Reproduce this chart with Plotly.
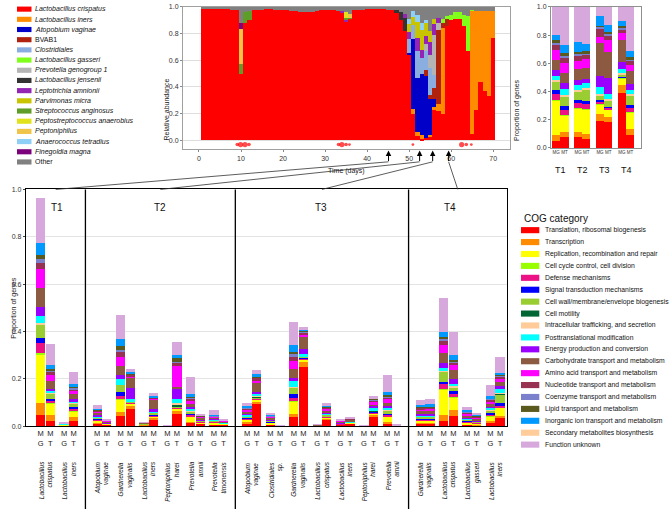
import plotly.graph_objects as go

W, H = 670, 512
FONT = "Liberation Sans, Arial, Helvetica, sans-serif"

# ====================== DATA ======================
# ---- species legend / time series (top middle) ----
species_names = ["Lactobacillus crispatus", "Lactobacillus iners", "Atopobium vaginae", "BVAB1",
                 "Clostridiales", "Lactobacillus gasseri", "Prevotella genogroup 1",
                 "Lactobacillus jensenii", "Leptotrichia amnionii", "Parvimonas micra",
                 "Streptococcus anginosus", "Peptostreptococcus anaerobius", "Peptoniphilus",
                 "Anaerococcus tetradius", "Finegoldia magna", "Other"]
species_italic = [True, True, True, False, True, True, True, True, True, True,
                  True, True, True, True, True, False]
species_colors = ["#ff0000", "#ff8c00", "#0000c8", "#b0220e", "#8aaee0", "#80ff1a",
                  "#b4b4b4", "#333333", "#9424b4", "#c8c400", "#5e9e28", "#e2e21c",
                  "#f0c448", "#8ecff8", "#7c007c", "#808080"]

days = list(range(1, 71))
ab_crispatus = [0.985, 0.985, 0.985, 0.985, 0.99, 0.985, 0.985, 0.98, 0.975,
                0.495, 0.88, 0.9,
                0.975, 0.98, 0.98, 0.985, 0.985, 0.98, 0.98,
                0.975, 0.975, 0.97, 0.97, 0.965, 0.965, 0.96, 0.965, 0.97, 0.975, 0.975, 0.98, 0.975, 0.97,
                0.96, 0.89, 0.91,
                0.975, 0.98, 0.98, 0.985, 0.985, 0.985, 0.985, 0.985, 0.98, 0.975,
                0.955, 0.9, 0.82, 0.64, 0.195, 0.035, 0.01, 0.02, 0.03, 0.23, 0.22, 0.2,
                0.86, 0.9, 0.91, 0.91, 0.86, 0.67, 0.05, 0.23, 0.44, 0.37, 0.33, 0.77]
ab_other = [0.015, 0.015, 0.015, 0.015, 0.01, 0.015, 0.015, 0.02, 0.025,
            0.12, 0.04, 0.03,
            0.025, 0.02, 0.02, 0.015, 0.015, 0.02, 0.02,
            0.025, 0.025, 0.03, 0.03, 0.035, 0.035, 0.04, 0.035, 0.03, 0.025, 0.025, 0.02, 0.025, 0.03,
            0.03, 0.04, 0.05,
            0.025, 0.02, 0.02, 0.015, 0.015, 0.015, 0.015, 0.015, 0.02, 0.025,
            0.025, 0.04, 0.05, 0.088, 0.028, 0.06, 0.12, 0.1, 0.18, 0.09, 0.08, 0.09,
            0.07, 0.06, 0.04, 0.04, 0.06, 0.07, 0.02, 0.03, 0.03, 0.03, 0.03, 0.03]
# sparse readings {day: relative abundance}
ab_iners = {51: 0.037, 52: 0.025, 53: 0.03, 55: 0.01, 56: 0.02, 57: 0.05, 58: 0.64,
            65: 0.92, 66: 0.74, 67: 0.53, 68: 0.6, 69: 0.64, 70: 0.2}
ab_atopobium = {50: 0.012, 51: 0.53, 52: 0.41, 53: 0.46, 54: 0.46, 55: 0.27, 56: 0.06}
ab_bvab1 = {54: 0.05, 55: 0.03, 56: 0.08, 57: 0.56, 58: 0.04, 59: 0.05}
ab_clostridiales = {50: 0.11, 51: 0.1, 52: 0.2, 53: 0.12, 54: 0.14, 55: 0.2, 56: 0.1}
ab_gasseri = {58: 0.03, 59: 0.02, 60: 0.04, 61: 0.05, 62: 0.05, 63: 0.08, 64: 0.26, 65: 0.01}
ab_prevotella = {54: 0.05, 55: 0.1, 56: 0.3, 57: 0.05}
ab_jensenii = {47: 0.02, 48: 0.06, 49: 0.1}
ab_leptotrichia = {34: 0.01, 35: 0.01, 49: 0.03, 50: 0.05, 52: 0.1, 53: 0.06, 54: 0.06,
                   55: 0.1, 56: 0.08, 57: 0.04}
ab_parvimonas = {50: 0.06, 51: 0.06, 52: 0.12, 53: 0.15, 54: 0.1, 55: 0.08, 56: 0.04}
ab_anginosus = {10: 0.08, 11: 0.08, 12: 0.07, 35: 0.02, 36: 0.01}
ab_peptostrep = {35: 0.04}
ab_peptoniphilus = {10: 0.26, 36: 0.03}
ab_anaerococcus = {50: 0.04, 51: 0.05, 52: 0.05, 53: 0.05, 54: 0.02}
ab_finegoldia = {10: 0.045}

menses_days = [9.1, 9.9, 10.95, 11.9, 33.2, 34.0, 35.0, 35.8, 50.9, 62.5, 63.6, 64.8]
menses_level = [1, 2, 2, 1, 1, 2, 1, 0.5, 0.5, 2, 1, 0.5]
sample_days = [45.1, 52.5, 55.6, 59.4]
x_ticks_days = [0, 10, 20, 30, 40, 50, 60, 70]
y_ticks = [0.0, 0.2, 0.4, 0.6, 0.8, 1.0]

# ---- COG categories ----
cog_names = ["Translation, ribosomal biogenesis", "Transcription",
             "Replication, recombination and repair", "Cell cycle control, cell division",
             "Defense mechanisms", "Signal transduction mechanisms",
             "Cell wall/membrane/envelope biogenesis", "Cell motility",
             "Intracellular trafficking, and secretion", "Posttranslational modification",
             "Energy production and conversion", "Carbohydrate transport and metabolism",
             "Amino acid transport and metabolism", "Nucleotide transport and metabolism",
             "Coenzyme transport and metabolism", "Lipid transport and metabolism",
             "Inorganic ion transport and metabolism", "Secondary metabolites biosynthesis",
             "Function unknown"]
cog_colors = ["#ff0000", "#ff8c00", "#ffff00", "#99ff00", "#ec1286", "#0000ff", "#9acd32",
              "#006633", "#ffcc99", "#00ffff", "#9900ff", "#8b5a40", "#ff00ff", "#983252",
              "#7b80cc", "#5a5a1e", "#0099ff", "#ffcc9a", "#d6a8dc"]

# ---- top right: whole community, MG vs MT ----
tr_labels = ["T1", "T2", "T3", "T4"]
tr_MG = [
    [0.047, 0.047, 0.24, 0.005, 0.047, 0.023, 0.063, 0, 0.014, 0.028, 0.04, 0.072, 0.067, 0.035, 0.023, 0.012, 0.042, 0, 0.195],
    [0.081, 0.035, 0.163, 0.004, 0.037, 0.023, 0.056, 0, 0.014, 0.033, 0.035, 0.077, 0.058, 0.04, 0.012, 0.011, 0.07, 0, 0.251],
    [0.193, 0.047, 0.07, 0.003, 0.016, 0.012, 0.03, 0, 0.012, 0.047, 0.08, 0.233, 0.047, 0.058, 0.012, 0.005, 0.07, 0, 0.065],
    [0.39, 0.058, 0.047, 0.002, 0.005, 0.005, 0.01, 0, 0.016, 0.028, 0.051, 0.153, 0.051, 0.023, 0.016, 0.012, 0.037, 0, 0.096],
]
tr_MT = [
    [0.077, 0.035, 0.116, 0.003, 0.042, 0.023, 0.07, 0, 0.009, 0.047, 0.042, 0.07, 0.07, 0.035, 0.016, 0.019, 0.058, 0, 0.268],
    [0.065, 0.035, 0.174, 0.004, 0.035, 0.023, 0.08, 0, 0.012, 0.03, 0.033, 0.077, 0.063, 0.03, 0.012, 0.012, 0.05, 0, 0.265],
    [0.186, 0.037, 0.051, 0.002, 0.009, 0.009, 0.04, 0, 0.012, 0.035, 0.116, 0.186, 0.086, 0.03, 0.012, 0.014, 0.05, 0, 0.125],
    [0.093, 0.042, 0.116, 0.004, 0.03, 0.023, 0.067, 0, 0.009, 0.028, 0.04, 0.093, 0.047, 0.023, 0.016, 0.014, 0.04, 0, 0.315],
]

# ---- bottom: per species, per timepoint ----
T1_species = ["Lactobacillus<br>crispatus", "Lactobacillus<br>iners"]
T1_MG = [
    [0.047, 0.049, 0.205, 0.007, 0.04, 0.024, 0.056, 0, 0.008, 0.026, 0.039, 0.08, 0.08, 0.025, 0.017, 0.018, 0.051, 0, 0.19],
    [0.002, 0.001, 0.002, 0, 0.001, 0, 0.001, 0, 0, 0.001, 0, 0.001, 0.001, 0, 0, 0, 0.001, 0, 0.002],
]
T1_MT = [
    [0.02, 0.024, 0.048, 0.002, 0.011, 0.007, 0.025, 0, 0.002, 0.007, 0.01, 0.032, 0.026, 0.014, 0.007, 0.004, 0.017, 0, 0.088],
    [0.02, 0.017, 0.023, 0.003, 0.01, 0.005, 0.014, 0.002, 0.002, 0.008, 0.008, 0.02, 0.013, 0.01, 0.006, 0.004, 0.01, 0, 0.052],
]
T2_species = ["Atopobium<br>vaginae", "Gardnerella<br>vaginalis", "Lactobacillus<br>iners",
              "Peptoniphilus<br>harei", "Prevotella<br>amnii", "Prevotella<br>timonensis"]
T2_MG = [
    [0.008, 0.004, 0.01, 0, 0.005, 0.002, 0.006, 0, 0.001, 0.004, 0.005, 0.009, 0.006, 0.004, 0.002, 0.002, 0.004, 0, 0.014],
    [0.04, 0.017, 0.053, 0.002, 0.014, 0.017, 0.029, 0, 0.002, 0.024, 0.017, 0.039, 0.035, 0.024, 0.008, 0.017, 0.03, 0, 0.1],
    [0.003, 0.001, 0.002, 0, 0.001, 0, 0.001, 0, 0, 0.001, 0.001, 0.002, 0.001, 0, 0, 0, 0.001, 0, 0.001],
    [0.001, 0, 0.001, 0, 0, 0, 0, 0, 0, 0, 0, 0, 0, 0, 0, 0, 0, 0, 0.001],
    [0.013, 0.004, 0.022, 0.001, 0.006, 0.004, 0.012, 0, 0.002, 0.01, 0.006, 0.012, 0.012, 0.01, 0.004, 0.004, 0.014, 0, 0.068],
    [0.004, 0.002, 0.007, 0, 0.003, 0.002, 0.004, 0, 0.001, 0.003, 0.003, 0.005, 0.004, 0.003, 0.001, 0.001, 0.004, 0, 0.02],
]
T2_MT = [
    [0.004, 0.002, 0.002, 0, 0.001, 0, 0.001, 0, 0, 0.001, 0.002, 0.006, 0.001, 0.001, 0, 0, 0.001, 0, 0.003],
    [0.071, 0.015, 0.006, 0.001, 0.004, 0.002, 0.004, 0, 0.001, 0.008, 0.046, 0.044, 0.008, 0.005, 0.003, 0.002, 0.005, 0, 0.015],
    [0.026, 0.007, 0.007, 0.001, 0.003, 0.002, 0.008, 0, 0.001, 0.004, 0.01, 0.042, 0.004, 0.003, 0.002, 0.001, 0.005, 0, 0.014],
    [0.05, 0.011, 0.01, 0.002, 0.003, 0.002, 0.004, 0.008, 0.004, 0.02, 0.045, 0.005, 0.09, 0.012, 0.004, 0.02, 0.008, 0, 0.055],
    [0.008, 0.003, 0.004, 0, 0.002, 0.001, 0.003, 0, 0, 0.003, 0.003, 0.008, 0.003, 0.002, 0.001, 0.001, 0.003, 0, 0.005],
    [0.005, 0.002, 0.002, 0, 0.001, 0, 0.001, 0, 0, 0.001, 0.002, 0.004, 0.002, 0.001, 0, 0, 0.001, 0, 0.003],
]
T3_species = ["Atopobium<br>vaginae", "Clostridiales<br>sp.", "Gardnerella<br>vaginalis",
              "Lactobacillus<br>crispatus", "Lactobacillus<br>iners", "Peptoniphilus<br>harei",
              "Prevotella<br>amnii"]
T3_MG = [
    [0.01, 0.005, 0.01, 0, 0.006, 0.002, 0.007, 0, 0.001, 0.005, 0.005, 0.01, 0.008, 0.005, 0.002, 0.002, 0.004, 0, 0.014],
    [0.005, 0.002, 0.005, 0, 0.003, 0.001, 0.004, 0, 0.001, 0.003, 0.004, 0.006, 0.004, 0.003, 0.001, 0.001, 0.003, 0, 0.007],
    [0.036, 0.014, 0.053, 0.002, 0.014, 0.014, 0.028, 0, 0.002, 0.025, 0.014, 0.037, 0.035, 0.02, 0.007, 0.011, 0.028, 0, 0.1],
    [0.001, 0, 0.001, 0, 0, 0, 0.001, 0, 0, 0, 0, 0.001, 0, 0, 0, 0, 0, 0, 0.002],
    [0.004, 0.001, 0.002, 0, 0.001, 0, 0.002, 0, 0, 0.001, 0.002, 0.006, 0.002, 0.001, 0, 0, 0.001, 0, 0.003],
    [0.001, 0, 0, 0, 0, 0, 0, 0, 0, 0, 0, 0, 0, 0, 0, 0, 0, 0, 0.001],
    [0.01, 0.004, 0.026, 0.001, 0.006, 0.004, 0.014, 0, 0.002, 0.012, 0.006, 0.012, 0.014, 0.01, 0.004, 0.004, 0.014, 0, 0.072],
]
T3_MT = [
    [0.093, 0.01, 0.006, 0.001, 0.003, 0.002, 0.004, 0.006, 0.003, 0.007, 0.007, 0.039, 0.01, 0.011, 0.003, 0.002, 0.011, 0, 0.018],
    [0.001, 0, 0, 0, 0, 0, 0, 0, 0, 0, 0, 0.001, 0, 0, 0, 0, 0, 0, 0.001],
    [0.246, 0.024, 0.01, 0.001, 0.004, 0.002, 0.004, 0, 0.001, 0.01, 0.021, 0.05, 0.01, 0.011, 0.005, 0.002, 0.003, 0, 0.012],
    [0.025, 0.005, 0.006, 0, 0.003, 0.002, 0.005, 0, 0.001, 0.003, 0.004, 0.012, 0.007, 0.004, 0.002, 0.002, 0.004, 0, 0.011],
    [0.008, 0.002, 0.002, 0, 0.001, 0, 0.002, 0, 0, 0.001, 0.002, 0.008, 0.002, 0.001, 0.001, 0, 0.002, 0, 0.004],
    [0.04, 0.006, 0.006, 0.001, 0.003, 0.002, 0.003, 0.003, 0.002, 0.007, 0.011, 0.004, 0.014, 0.005, 0.002, 0.004, 0.004, 0, 0.008],
    [0.001, 0, 0.001, 0, 0, 0, 0, 0, 0, 0, 0, 0.001, 0, 0, 0, 0, 0, 0, 0.002],
]
T4_species = ["Gardnerella<br>vaginalis", "Lactobacillus<br>crispatus", "Lactobacillus<br>gasseri",
              "Lactobacillus<br>iners"]
T4_MG = [
    [0.008, 0.004, 0.01, 0, 0.006, 0.003, 0.007, 0, 0.001, 0.006, 0.005, 0.011, 0.009, 0.006, 0.002, 0.002, 0.009, 0, 0.018],
    [0.019, 0.028, 0.104, 0.004, 0.02, 0.01, 0.042, 0, 0.004, 0.014, 0.018, 0.044, 0.032, 0.02, 0.008, 0.007, 0.02, 0, 0.146],
    [0.004, 0.002, 0.008, 0, 0.004, 0.002, 0.005, 0, 0.002, 0.004, 0.005, 0.008, 0.007, 0.004, 0.003, 0.002, 0.006, 0, 0.014],
    [0.015, 0.003, 0.022, 0.002, 0.006, 0.005, 0.012, 0, 0.003, 0.008, 0.005, 0.01, 0.012, 0.008, 0.003, 0.003, 0.007, 0, 0.047],
]
T4_MT = [
    [0.008, 0.004, 0.01, 0, 0.006, 0.003, 0.007, 0, 0.001, 0.006, 0.005, 0.011, 0.01, 0.006, 0.002, 0.002, 0.009, 0, 0.024],
    [0.043, 0.022, 0.056, 0.002, 0.012, 0.01, 0.018, 0, 0.003, 0.012, 0.019, 0.039, 0.021, 0.01, 0.006, 0.004, 0.02, 0, 0.1],
    [0.003, 0.002, 0.005, 0, 0.002, 0.001, 0.003, 0, 0.001, 0.002, 0.004, 0.008, 0.005, 0.003, 0.002, 0.001, 0.002, 0, 0.009],
    [0.033, 0.01, 0.032, 0.003, 0.007, 0.01, 0.037, 0.005, 0.003, 0.018, 0.008, 0.02, 0.014, 0.008, 0.004, 0.003, 0.007, 0, 0.067],
]
group_labels = ["T1", "T2", "T3", "T4"]

# ====================== LAYOUT CONSTANTS (pixels) ======================
def px(x):
    return x / W


def py(y):
    return 1 - y / H


TOP_X = (183, 510)
TOP_XR = (-3.8, 74.0)
TOP_Y = (147.5, 3)
TR_X = (551, 641)
TR_Y = (146, 3)
BOT_X = (26, 507)
BOT_Y = (428, 188)

TR_FIRST, TR_STEP, TR_OFF, TR_W = 556.2, 21.9, 8.2, 8.2
B_FIRST, B_PAIR, B_GAP, B_OFF, B_W = 40.7, 23.35, 9.8, 9.6, 9.3
group_label_x = [57, 160, 321, 450]

fig = go.Figure()

# ---------- top middle: species abundances ----------
sparse = [ab_iners, ab_atopobium, ab_bvab1, ab_clostridiales, ab_gasseri, ab_prevotella,
          ab_jensenii, ab_leptotrichia, ab_parvimonas, ab_anginosus, ab_peptostrep,
          ab_peptoniphilus, ab_anaerococcus, ab_finegoldia]
species_series = [ab_crispatus] + [[s.get(d, 0.0) for d in days] for s in sparse] + [ab_other]
for name, color, vals in zip(species_names, species_colors, species_series):
    fig.add_trace(go.Bar(x=days, y=vals, width=1.0, name=name,
                         marker=dict(color=color, line=dict(width=0)),
                         xaxis="x", yaxis="y", showlegend=False))
fig.add_trace(go.Scatter(x=menses_days, y=[-0.033] * len(menses_days), mode="markers",
                         marker=dict(color="#ff0000", size=[2 + 1.6 * l for l in menses_level],
                                     line=dict(width=0)),
                         xaxis="x", yaxis="y", showlegend=False))

# ---------- top right ----------
tr_x, tr_bars, tr_tick = [], [], []
for i in range(len(tr_labels)):
    base = TR_FIRST + i * TR_STEP
    tr_x += [base, base + TR_OFF]
    tr_bars += [tr_MG[i], tr_MT[i]]
    tr_tick += ["MG", "MT"]
for c, (cname, ccol) in enumerate(zip(cog_names, cog_colors)):
    fig.add_trace(go.Bar(x=tr_x, y=[b[c] for b in tr_bars], width=TR_W, name=cname,
                         marker=dict(color=ccol, line=dict(width=0)),
                         xaxis="x2", yaxis="y2", showlegend=False))

# ---------- bottom ----------
groups = [(T1_species, T1_MG, T1_MT), (T2_species, T2_MG, T2_MT),
          (T3_species, T3_MG, T3_MT), (T4_species, T4_MG, T4_MT)]
b_x, b_bars, b_tick, sp_centers, sp_names = [], [], [], [], []
group_bounds = []
pos = B_FIRST
for gi, (sps, mg, mt) in enumerate(groups):
    if gi > 0:
        pos += B_GAP
    first = pos
    for s, name in enumerate(sps):
        b_x += [pos, pos + B_OFF]
        b_bars += [mg[s], mt[s]]
        b_tick += ["M<br>G", "M<br>T"]
        sp_centers.append(pos + B_OFF / 2)
        sp_names.append(name)
        pos += B_PAIR
    group_bounds.append((first, pos - B_PAIR + B_OFF))
for c, (cname, ccol) in enumerate(zip(cog_names, cog_colors)):
    fig.add_trace(go.Bar(x=b_x, y=[b[c] for b in b_bars], width=B_W, name=cname,
                         marker=dict(color=ccol, line=dict(width=0)),
                         xaxis="x3", yaxis="y3", showlegend=False))

separators = [(group_bounds[i][1] + group_bounds[i + 1][0]) / 2 for i in range(3)]
box_edges = [BOT_X[0]] + separators + [BOT_X[1]]
box_centers = [(box_edges[i] + box_edges[i + 1]) / 2 for i in range(4)]

shapes = []
annotations = []
for sx in separators:
    shapes.append(dict(type="line", xref="paper", yref="paper", x0=px(sx), x1=px(sx),
                       y0=py(BOT_Y[1]), y1=py(512), line=dict(color="black", width=1.3)))

# arrows from the time axis to the boxes
def day_to_paper(d):
    return px(TOP_X[0] + (d - TOP_XR[0]) / (TOP_XR[1] - TOP_XR[0]) * (TOP_X[1] - TOP_X[0]))


for d, bc in zip(sample_days, box_centers):
    shapes.append(dict(type="line", xref="paper", yref="paper", x0=day_to_paper(d), y0=py(160),
                       x1=px(bc), y1=py(BOT_Y[1]), line=dict(color="#333", width=0.8)))
    annotations.append(dict(x=d, xref="x", y=py(148.5), yref="paper", text="", showarrow=True,
                            ax=0, ay=12, axref="pixel", ayref="pixel", arrowhead=2,
                            arrowsize=1.1, arrowwidth=1, arrowcolor="black", standoff=0))

# group labels
for lab, gx in zip(group_labels, group_label_x):
    annotations.append(dict(x=gx, xref="x3", y=py(206), yref="paper", text=lab, showarrow=False,
                            font=dict(size=10, color="#111", family=FONT)))
# species labels (rotated)
for cx, nm in zip(sp_centers, sp_names):
    annotations.append(dict(x=cx, xref="x3", y=py(462), yref="paper", text=f"<i>{nm}</i>",
                            showarrow=False, textangle=-90, xanchor="center", yanchor="top",
                            align="right", font=dict(size=6.5, color="#111", family=FONT)))
# top right group labels
for i, lab in enumerate(tr_labels):
    annotations.append(dict(x=(tr_x[2 * i] + tr_x[2 * i + 1]) / 2, xref="x2", y=py(161.5),
                            yref="paper", text=lab, showarrow=False,
                            font=dict(size=9, color="#111", family=FONT)))

# axis titles
annotations.append(dict(x=px(161), y=py(74), xref="paper", yref="paper", text="Relative abundance",
                        textangle=-90, showarrow=False, font=dict(size=7, color="#222", family=FONT)))
annotations.append(dict(x=day_to_paper(35), y=py(163.5), xref="paper", yref="paper", text="Time (days)",
                        showarrow=False, font=dict(size=7, color="#222", family=FONT)))
annotations.append(dict(x=px(523), y=py(74), xref="paper", yref="paper", text="Proportion of genes",
                        textangle=-90, showarrow=False, font=dict(size=7, color="#222", family=FONT)))
annotations.append(dict(x=px(8), y=py(308), xref="paper", yref="paper", text="Proportion of genes",
                        textangle=-90, showarrow=False, font=dict(size=7, color="#222", family=FONT)))

# species legend (top-left)
for i, (nm, col, it) in enumerate(zip(species_names, species_colors, species_italic)):
    yc = 5.2 + i * 10.33
    shapes.append(dict(type="rect", xref="paper", yref="paper", x0=px(17), x1=px(31.5),
                       y0=py(yc + 2.6), y1=py(yc - 2.6), fillcolor=col, line=dict(width=0)))
    annotations.append(dict(x=px(33), y=py(yc), xref="paper", yref="paper",
                            text=f"<i>{nm}</i>" if it else nm, showarrow=False, xanchor="left",
                            yanchor="middle", font=dict(size=7, color="#111", family=FONT)))

# COG legend
annotations.append(dict(x=px(590), y=py(217), xref="paper", yref="paper", text="COG category",
                        showarrow=False, font=dict(size=10, color="#111", family=FONT)))
for i, (nm, col) in enumerate(zip(cog_names, cog_colors)):
    yc = 229.3 + i * 12.08
    shapes.append(dict(type="rect", xref="paper", yref="paper", x0=px(521), x1=px(539.3),
                       y0=py(yc + 3.1), y1=py(yc - 3.1), fillcolor=col, line=dict(width=0)))
    annotations.append(dict(x=px(543), y=py(yc), xref="paper", yref="paper", text=nm,
                            showarrow=False, xanchor="left", yanchor="middle",
                            font=dict(size=6.8, color="#111", family=FONT)))

tick_font = dict(size=7, color="#333", family=FONT)
fig.update_layout(
    width=W, height=H, margin=dict(l=0, r=0, t=0, b=0),
    paper_bgcolor="white", plot_bgcolor="white",
    barmode="stack", bargap=0, showlegend=False, hovermode=False,
    font=dict(family=FONT),
    xaxis=dict(domain=[px(TOP_X[0]), px(TOP_X[1])], range=list(TOP_XR), anchor="y",
               tickvals=x_ticks_days, ticks="outside", ticklen=2, tickcolor="#888", tickangle=0,
               tickfont=tick_font, showgrid=False, zeroline=False,
               showline=True, linecolor="#a0a0a0", linewidth=1, mirror=True),
    yaxis=dict(domain=[py(TOP_Y[0]), py(TOP_Y[1])], range=[-0.07, 1.0], anchor="x",
               tickvals=y_ticks, ticktext=[f"{v:.1f}" for v in y_ticks], ticks="outside",
               ticklen=2, tickcolor="#888", tickfont=tick_font, showgrid=True,
               gridcolor="#dedede", gridwidth=1, zeroline=False,
               showline=True, linecolor="#a0a0a0", linewidth=1, mirror=True),
    xaxis2=dict(domain=[px(TR_X[0]), px(TR_X[1])], range=list(TR_X), anchor="y2",
                tickvals=tr_x, ticktext=tr_tick, ticks="", tickangle=0,
                tickfont=dict(size=4.5, color="#333", family=FONT),
                showgrid=False, zeroline=False, showline=True, linecolor="#909090", mirror=True),
    yaxis2=dict(domain=[py(TR_Y[0]), py(TR_Y[1])], range=[0, 1.0], anchor="x2",
                tickvals=y_ticks, ticktext=[f"{v:.1f}" for v in y_ticks], ticks="outside",
                ticklen=2, tickcolor="#888", tickfont=tick_font, showgrid=False, zeroline=False,
                showline=True, linecolor="#909090", mirror=True),
    xaxis3=dict(domain=[px(BOT_X[0]), px(BOT_X[1])], range=list(BOT_X), anchor="y3",
                tickvals=b_x, ticktext=b_tick, ticks="", tickangle=0,
                tickfont=dict(size=7.5, color="#222", family=FONT),
                showgrid=False, zeroline=False, showline=True, linecolor="black", linewidth=1.3,
                mirror=True),
    yaxis3=dict(domain=[py(BOT_Y[0]), py(BOT_Y[1])], range=[0, 1.0], anchor="x3",
                tickvals=y_ticks, ticktext=[f"{v:.1f}" for v in y_ticks], ticks="outside",
                ticklen=2, tickcolor="#444", tickfont=tick_font, showgrid=True,
                gridcolor="#e4e4e4", zeroline=False, showline=True, linecolor="black",
                linewidth=1.3, mirror=True),
    shapes=shapes, annotations=annotations,
)

fig.write_html("out.html", config={"displayModeBar": False},
               post_script="document.body.style.margin='0px';document.body.style.overflow='hidden';")
